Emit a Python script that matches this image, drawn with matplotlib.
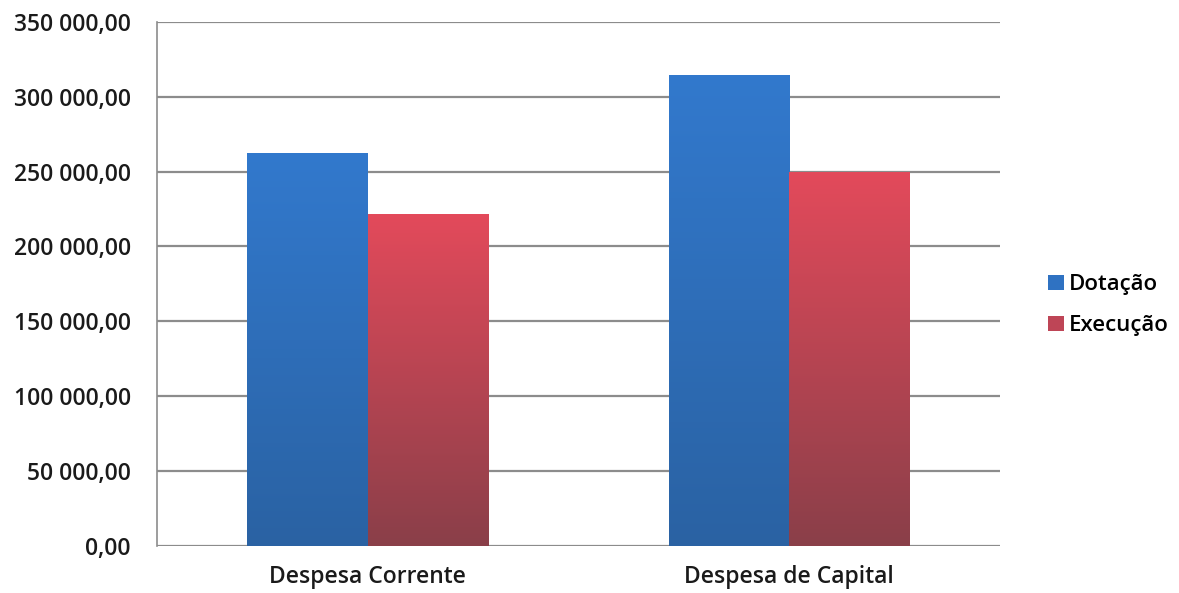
import numpy as np
import matplotlib.pyplot as plt
from matplotlib.colors import LinearSegmentedColormap
from matplotlib.patches import Patch

categorias = ['Despesa Corrente', 'Despesa de Capital']
series = ['Dotação', 'Execução']
dotacao = [262500, 314500]
execucao = [221500, 249500]
yticks = [0, 50000, 100000, 150000, 200000, 250000, 300000, 350000]

# top -> bottom colours of the gradient fill
grad = {'Dotação': ('#3279CD', '#2A62A3'), 'Execução': ('#E34A5B', '#8A3F49')}
legend_cols = {'Dotação': '#2F72C2', 'Execução': '#BE4556'}

plt.rcParams['font.family'] = ['Open Sans', 'DejaVu Sans']

fig = plt.figure(figsize=(11.79, 5.93), dpi=100)
ax = fig.add_axes([0.1332, 0.0793, 0.7148, 0.884])

x = np.arange(len(categorias))
w = 0.286
for i, (nome, vals) in enumerate(zip(series, [dotacao, execucao])):
    pos = x + (i - 0.5) * w
    bars = ax.bar(pos, vals, w, color='none', edgecolor='none', zorder=3)
    cmap = LinearSegmentedColormap.from_list(nome, [grad[nome][1], grad[nome][0]])
    g = np.linspace(0, 1, 256).reshape(-1, 1)
    for b in bars:
        bx = b.get_x()
        im = ax.imshow(g, cmap=cmap, origin='lower', aspect='auto',
                       extent=[bx, bx + b.get_width(), 0, b.get_height()], zorder=3)
        im.set_clip_path(b)

ax.set_xlim(-0.5, 1.5)
ax.set_ylim(0, 350000)
ax.set_yticks(yticks)
ax.set_yticklabels(['{:,.2f}'.format(v).replace(',', ' ').replace('.', ',') for v in yticks])
ax.set_xticks(x)
ax.set_xticklabels(categorias)
ax.tick_params(length=0, labelsize=16.5, colors='#1a1a1a')
ax.tick_params(axis='y', pad=19)
ax.tick_params(axis='x', pad=14)
for t in ax.get_xticklabels() + ax.get_yticklabels():
    t.set_fontweight('semibold')

ax.yaxis.grid(True, color='#8c8c8c', lw=1.6, zorder=1)
for s in ['top', 'right', 'bottom']:
    ax.spines[s].set_visible(False)
ax.spines['left'].set_color('#8c8c8c')
ax.spines['left'].set_linewidth(1.2)

handles = [Patch(facecolor=legend_cols[n], edgecolor='none') for n in series]
fig.legend(handles, series, loc='center left', bbox_to_anchor=(0.872, 0.485),
           frameon=False, prop={'size': 16, 'weight': 'semibold'},
           handlelength=0.7, handleheight=0.7, handletextpad=0.25, labelspacing=0.9)

fig.savefig('out.png', dpi=100)
